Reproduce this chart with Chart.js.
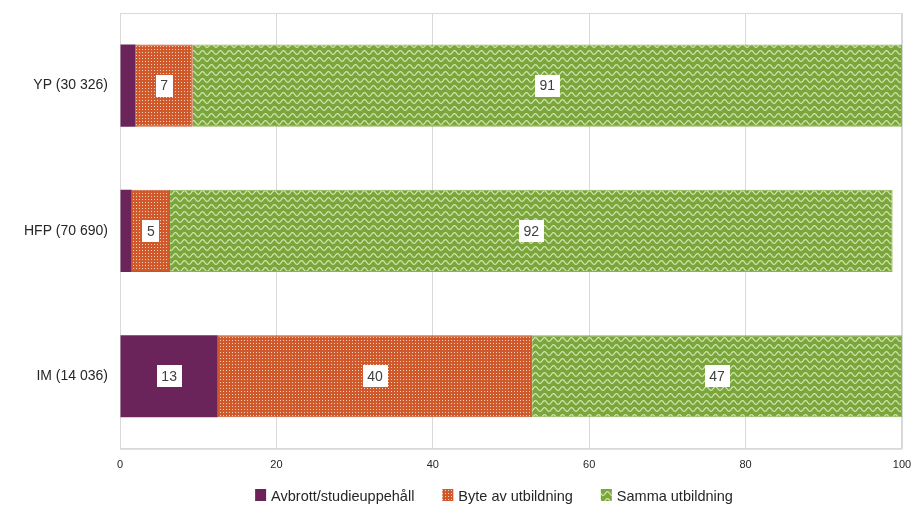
<!DOCTYPE html>
<html>
<head>
<meta charset="utf-8">
<script src="https://cdn.jsdelivr.net/npm/chart.js@4/dist/chart.umd.min.js"></script>
<style>
html,body{margin:0;padding:0;background:#fff;}
#wrap{width:916px;height:508px;}
</style>
</head>
<body>
<div id="wrap"><canvas id="c" width="916" height="508"></canvas></div>
<script>
const categories = ["YP (30 326)", "HFP (70 690)", "IM (14 036)"];
const seriesNames = ["Avbrott/studieuppehåll", "Byte av utbildning", "Samma utbildning"];
const avbrott = [2.0, 1.5, 12.5];
const byte = [7.3, 4.9, 40.2];
const samma = [90.7, 92.4, 47.3];
const xTicks = [0, 20, 40, 60, 80, 100];

const FONT = '"Liberation Sans", Arial, sans-serif';

function dotPattern() {
  const c = document.createElement('canvas');
  c.width = 3; c.height = 3;
  const g = c.getContext('2d');
  g.fillStyle = '#d0592b';
  g.fillRect(0, 0, 3, 3);
  g.fillStyle = '#f6d2bd';
  g.fillRect(1, 1, 1, 1);
  return g.createPattern(c, 'repeat');
}
function wavePattern() {
  const w = 9, h = 7;
  const c = document.createElement('canvas');
  c.width = w; c.height = h;
  const g = c.getContext('2d');
  g.fillStyle = '#7ba63b';
  g.fillRect(0, 0, w, h);
  g.strokeStyle = '#d4e6b5';
  g.lineWidth = 1.2;
  g.beginPath();
  for (let x = -1; x <= w + 1; x += 0.5) {
    const y = 3.5 + 1.9 * Math.cos(2 * Math.PI * x / w);
    if (x === -1) g.moveTo(x, y); else g.lineTo(x, y);
  }
  g.stroke();
  return g.createPattern(c, 'repeat');
}
const purple = '#6b2459';

const labelPlugin = {
  id: 'boxLabels',
  afterDatasetsDraw(chart) {
    const ctx = chart.ctx;
    ctx.save();
    ctx.font = '14px ' + FONT;
    ctx.textAlign = 'center';
    ctx.textBaseline = 'middle';
    chart.data.datasets.forEach((ds, di) => {
      const meta = chart.getDatasetMeta(di);
      meta.data.forEach((el, i) => {
        const v = ds.data[i];
        if (v < 3) return;
        const txt = String(Math.round(v));
        const cx = (el.x + el.base) / 2;
        const cy = el.y;
        const tw = ctx.measureText(txt).width;
        const bw = tw + 9, bh = 22;
        ctx.fillStyle = '#ffffff';
        ctx.fillRect(Math.round(cx - bw / 2), Math.round(cy - bh / 2), Math.round(bw), bh);
        ctx.fillStyle = '#404040';
        ctx.fillText(txt, cx, cy + 1);
      });
    });
    ctx.restore();
  }
};
const framePlugin = {
  id: 'frame',
  beforeDatasetsDraw(chart) {
    const a = chart.chartArea, ctx = chart.ctx;
    ctx.save();
    ctx.strokeStyle = '#d9d9d9';
    ctx.lineWidth = 1;
    ctx.strokeRect(a.left + 0.5, a.top + 0.5, a.right - a.left - 1, a.bottom - a.top);
    ctx.restore();
  }
};
const legendPlugin = {
  id: 'customLegend',
  afterDraw(chart) {
    const ctx = chart.ctx;
    const dss = chart.data.datasets;
    ctx.save();
    ctx.font = '14.5px ' + FONT;
    const box = 11, gap = 5, itemGap = 28;
    const widths = dss.map(d => box + gap + ctx.measureText(d.label).width);
    const total = widths.reduce((a, b) => a + b, 0) + itemGap * (dss.length - 1);
    let x = 494 - total / 2;
    const cy = 496;
    ctx.textBaseline = 'middle';
    ctx.textAlign = 'left';
    dss.forEach((d, i) => {
      ctx.fillStyle = d.backgroundColor;
      ctx.fillRect(x, cy - 7, box, 12);
      ctx.fillStyle = '#262626';
      ctx.fillText(d.label, x + box + gap, cy + 1);
      x += widths[i] + itemGap;
    });
    ctx.restore();
  }
};

new Chart(document.getElementById('c'), {
  type: 'bar',
  data: {
    labels: categories,
    datasets: [
      { label: seriesNames[0], data: avbrott, backgroundColor: purple, borderColor: purple, borderWidth: 0 },
      { label: seriesNames[1], data: byte, backgroundColor: dotPattern(), borderColor: '#c2532a', borderWidth: 1 },
      { label: seriesNames[2], data: samma, backgroundColor: wavePattern(), borderColor: '#8bb24f', borderWidth: 1 }
    ]
  },
  options: {
    indexAxis: 'y',
    responsive: false,
    animation: false,
    devicePixelRatio: 1,
    layout: { autoPadding: false, padding: { left: 0, right: 14, top: 13, bottom: 26 } },
    datasets: { bar: { barPercentage: 0.565, categoryPercentage: 1.0 } },
    scales: {
      x: {
        stacked: true, min: 0, max: 100,
        afterBuildTicks(scale) { scale.ticks = xTicks.map(v => ({ value: v })); },
        afterFit(scale) { scale.paddingLeft = 0; scale.paddingRight = 0; },
        grid: { color: '#d9d9d9', drawTicks: false },
        border: { color: '#d9d9d9' },
        ticks: { padding: 10, color: '#262626', font: { size: 11, family: FONT } }
      },
      y: {
        stacked: true,
        afterFit(scale) { scale.width = 120; scale.paddingTop = 0; scale.paddingBottom = 0; },
        grid: { display: false, drawTicks: false },
        border: { color: '#d9d9d9' },
        ticks: { padding: 12, color: '#262626', font: { size: 14, family: FONT } }
      }
    },
    plugins: {
      legend: { display: false },
      tooltip: { enabled: false }
    }
  },
  plugins: [framePlugin, labelPlugin, legendPlugin]
});
</script>
</body>
</html>
